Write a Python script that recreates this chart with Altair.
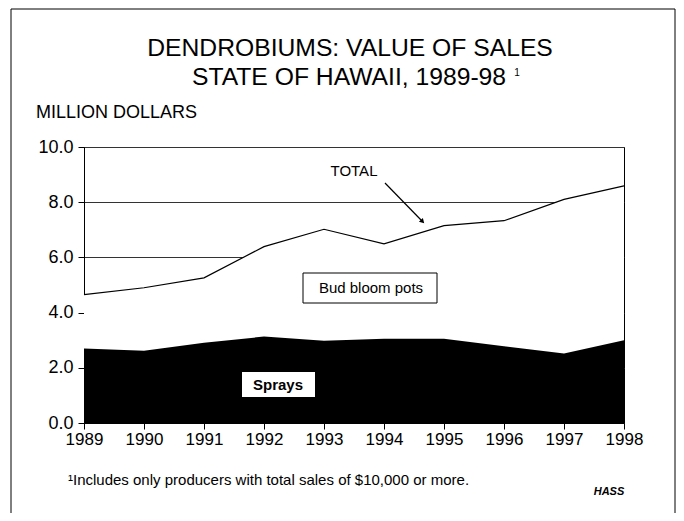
import altair as alt
import pandas as pd

# ---- data ----
years = [1989, 1990, 1991, 1992, 1993, 1994, 1995, 1996, 1997, 1998]
total = [4.65, 4.90, 5.26, 6.39, 7.02, 6.49, 7.15, 7.33, 8.10, 8.59]
sprays = [2.70, 2.62, 2.91, 3.13, 2.98, 3.05, 3.05, 2.78, 2.52, 3.00]
y_ticks = [0, 2, 4, 6, 8, 10]

title_line1 = "DENDROBIUMS:  VALUE OF SALES"
title_line2 = "STATE OF HAWAII, 1989-98"
title_sup = "1"
y_unit = "MILLION DOLLARS"
label_total = "TOTAL"
label_bud = "Bud bloom pots"
label_sprays = "Sprays"
footnote = "\u00b9Includes only producers with total sales of $10,000 or more."
source = "HASS"

FONT = "Liberation Sans"
W, H = 540, 276

df = pd.DataFrame({"year": years, "total": total, "sprays": sprays})

xscale = alt.Scale(domain=[1989, 1998], nice=False, zero=False)
yscale = alt.Scale(domain=[0, 10], nice=False)
xaxis = alt.Axis(values=years, format="d", title=None, labelFontSize=17,
                 tickSize=6, labelPadding=2, grid=False, labelFont=FONT,
                 labelFlush=False)
yaxis = alt.Axis(values=y_ticks, format=".1f", title=None, labelFontSize=18,
                 tickSize=6, labelPadding=5, grid=True, gridColor="#333",
                 gridWidth=1, labelFont=FONT, labelFlush=False)

base = alt.Chart(df)
total_area = base.mark_area(color="white", opacity=1).encode(
    x=alt.X("year:Q", scale=xscale, axis=xaxis),
    y=alt.Y("total:Q", scale=yscale, axis=yaxis),
)
sprays_area = base.mark_area(color="black", opacity=1).encode(
    x=alt.X("year:Q", scale=xscale, axis=xaxis),
    y=alt.Y("sprays:Q", scale=yscale, axis=yaxis),
)
total_line = base.mark_line(color="black", strokeWidth=1.2).encode(
    x=alt.X("year:Q", scale=xscale, axis=xaxis),
    y=alt.Y("total:Q", scale=yscale, axis=yaxis),
)


def txt(s, x, y, size, align="center", weight="normal", style="normal", baseline="middle"):
    return alt.Chart(pd.DataFrame({"t": [s]})).mark_text(
        font=FONT, fontSize=size, align=align, baseline=baseline,
        fontWeight=weight, fontStyle=style, color="black",
    ).encode(text="t:N", x=alt.value(x), y=alt.value(y))


def box(x1, x2, y1, y2, stroke=True):
    kw = dict(fill="white", opacity=1)
    if stroke:
        kw.update(stroke="black", strokeWidth=1)
    return alt.Chart(pd.DataFrame({"a": [0]})).mark_rect(**kw).encode(
        x=alt.value(x1), x2=alt.value(x2), y=alt.value(y1), y2=alt.value(y2))


def rule(x1, y1, x2, y2, w=1.0):
    return alt.Chart(pd.DataFrame({"a": [0]})).mark_rule(
        color="black", strokeWidth=w).encode(
        x=alt.value(x1), x2=alt.value(x2), y=alt.value(y1), y2=alt.value(y2))


arrow_head = alt.Chart(pd.DataFrame({"a": [0]})).mark_point(
    shape="triangle", filled=True, color="black", size=30, angle=136, opacity=1
).encode(x=alt.value(338), y=alt.value(74))

layers = [
    total_area, sprays_area, total_line,
    txt(label_total, 270, 24, 15),
    rule(301, 36, 338, 74, 1.2), arrow_head,
    box(219, 353, 126, 156), txt(label_bud, 287, 141, 15),
    box(158, 231, 225, 250, stroke=False), txt(label_sprays, 194, 238, 15, weight="bold"),
    txt(title_line1, 266, -98, 24.7),
    txt(title_line2, 265, -69, 24.7),
    txt(title_sup, 433, -74, 10),
    txt(y_unit, -48, -34, 18, align="left"),
    txt(footnote, -16, 333, 15, align="left"),
    txt(source, 525, 345, 11, weight="bold", style="italic"),
    rule(-73, -138, -73, 366),
    rule(-73, -138, 591, -138),
    rule(591, -138, 591, 366),
]

chart = alt.layer(*layers).properties(
    width=W, height=H,
    autosize=alt.AutoSizeParams(type="none"),
    padding={"left": 76, "top": 139, "right": 52, "bottom": 90},
    background="white",
).configure_view(stroke="black", strokeWidth=1).configure_axis(
    domainColor="black", tickColor="black", labelColor="black"
)

chart.save("out.html", embed_options={"renderer": "svg", "actions": False})
